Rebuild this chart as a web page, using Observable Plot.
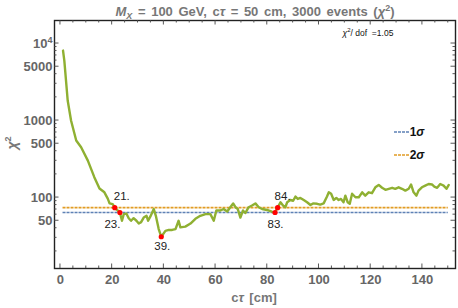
<!DOCTYPE html>
<html>
<head>
<meta charset="utf-8">
<script src="https://cdn.jsdelivr.net/npm/d3@7"></script>
<script src="https://cdn.jsdelivr.net/npm/@observablehq/plot@0.6"></script>
<style>
  html, body { margin: 0; padding: 0; background: #fff; }
</style>
</head>
<body>
<div id="chart"></div>
<script>
// ---- data ----
const ctValues = [1.0, 1.5, 2.8, 4.1, 6.1, 8.0, 10.6, 13.1, 15.1, 17.0, 18.3, 19.0, 20.2, 21, 23, 23.2, 23.8, 24.5, 25.5, 26.4,
  27.3, 28.3, 29.4, 30.3, 31.2, 32.2, 33.3, 33.9, 34.8, 36.1, 36.9, 38.0, 39, 40.6, 41.9, 43.2, 44.5, 45.7, 46.4, 48.3,
  50.3, 52.2, 54.1, 56.1, 58.0, 59.3, 60.3, 61.9, 63.1, 64.5, 65.7, 66.8, 67.7, 68.6, 69.6, 70.6, 71.5, 72.8, 74.1, 75.4,
  76.7, 78.0, 79.9, 81.5, 82.5, 83, 84, 85.1, 86.1, 87.0, 87.7, 88.9, 90.0, 90.9, 91.8, 92.8, 94.1, 95.4, 96.7, 97.7,
  99.3, 100.5, 101.8, 103.1, 103.8, 104.7, 105.7, 106.7, 107.6, 108.5, 109.5, 110.2, 111.1, 111.9, 112.8, 114.1, 115.4, 116.7, 117.9, 119.2,
  120.5, 121.8, 123.1, 124.4, 125.7, 127, 128.3, 129.5, 130.8, 132.1, 133.4, 134.7, 135.6, 136.6, 137.7, 138.5, 139.8, 141.1, 142.4, 143.7,
  144.6, 145.7, 146.9, 148.2, 149.3, 150.2];
const chi2Values = [8100, 6000, 1820, 1000, 550, 450, 302, 184, 131, 117, 97, 84, 82, 74, 64, 60, 50, 61, 62, 54,
  50, 54, 50, 46, 48, 55, 58, 50, 57, 71, 58, 39, 31, 37, 38, 38, 39, 50, 41, 42,
  46, 53, 58, 61, 61, 50, 68, 68, 71, 66, 75, 84, 75, 71, 55, 68, 63, 75, 79, 84,
  75, 71, 69, 66, 64, 64, 74, 87, 79, 75, 87, 93, 91, 103, 96, 99, 93, 87, 80, 84,
  83, 81, 84, 103, 117, 112, 93, 99, 93, 96, 87, 106, 87, 83, 112, 101, 101, 117, 106, 117,
  114, 136, 146, 134, 126, 130, 134, 130, 136, 130, 123, 130, 148, 117, 106, 123, 136, 143, 150, 148,
  139, 134, 150, 143, 130, 146];

const sigmaNames = ["1σ", "2σ"];
const sigmaLevels = [64, 74];
const sigmaRange = [1, 150];

const crossCt = [21, 23, 39, 83, 84];
const crossChi2 = [74, 64, 31, 64, 74];
const crossLabels = ["21.", "23.", "39.", "83.", "84."];

const xTicksMajor = [0, 20, 40, 60, 80, 100, 120, 140];
const xTicksMinor = [5, 10, 15, 25, 30, 35, 45, 50, 55, 65, 70, 75, 85, 90, 95, 105, 110, 115, 125, 130, 135, 145, 150];
const yTicksMajor = [50, 100, 500, 1000, 5000, 10000];
const yTickLabels = ["50", "100", "500", "1000", "5000", "TENFOUR"];
const yTicksMinor = [20, 30, 40, 60, 70, 80, 90, 200, 300, 400, 600, 700, 800, 900, 2000, 3000, 4000, 6000, 7000, 8000, 9000];

const chiDof = "1.05";

// ---- build ----
const curve = ctValues.map((c, i) => ({ct: c, chi2: chi2Values[i]}));
const crosses = crossCt.map((c, i) => ({ct: c, chi2: crossChi2[i], label: crossLabels[i]}));
const sigmas = sigmaLevels.map((v, i) => ({name: sigmaNames[i], level: v}));
const yLabelData = yTicksMajor.map((v, i) => ({v, label: yTickLabels[i]}));

const colBlue = "#5E81B5", colOrange = "#E19C24", colGreen = "#8FB032";
const labelOffsets = [[7, -11], [-7.5, 11.5], [1, 10], [0.5, 11.5], [5, -11.5]];
const font = "Liberation Sans, Arial, sans-serif";

const plot = Plot.plot({
  width: 458,
  height: 308,
  marginLeft: 54,
  marginRight: 3,
  marginTop: 20,
  marginBottom: 40,
  style: {fontFamily: font, fontSize: "13px", color: "#666", background: "#fff"},
  x: {domain: [-2.3, 152.8]},
  y: {type: "log", domain: [12, 19900]},
  marks: [
    Plot.axisX({ticks: xTicksMajor, tickSize: 0, tickPadding: 6, label: null, fontWeight: "bold"}),
    Plot.axisY({ticks: [], tickSize: 0, label: null}),
    Plot.text(yLabelData, {y: "v", text: "label", frameAnchor: "left", dx: -2, textAnchor: "end",
      fontWeight: "bold", fill: "#666", fontSize: 13}),
    Plot.ruleY(sigmas.slice(0, 1), {y: "level", x1: sigmaRange[0], x2: sigmaRange[1], stroke: colBlue, strokeWidth: 1.6, strokeDasharray: "3,1"}),
    Plot.ruleY(sigmas.slice(1, 2), {y: "level", x1: sigmaRange[0], x2: sigmaRange[1], stroke: colOrange, strokeWidth: 1.6, strokeDasharray: "3,1"}),
    Plot.line(curve, {x: "ct", y: "chi2", stroke: colGreen, strokeWidth: 2.4, strokeLinejoin: "round"}),
    Plot.dot(crosses, {x: "ct", y: "chi2", fill: "#ff0000", r: 2.6, stroke: "none"}),
    ...crosses.map((d, i) => Plot.text([d], {x: "ct", y: "chi2", text: "label", dx: labelOffsets[i][0], dy: labelOffsets[i][1],
      fill: "#222", fontSize: 11.5, lineAnchor: "middle", textAnchor: "middle"})),
    Plot.frame({stroke: "#222", strokeWidth: 1.4})
  ]
});

document.getElementById("chart").appendChild(plot);

const svg = d3.select(plot);
const xs = plot.scale("x"), ys = plot.scale("y");
const L = 54, R = 455, T = 20, B = 268;

// replace 10^4 label with superscript
svg.selectAll("text").filter(function() { return this.textContent === "TENFOUR"; }).each(function() {
  const t = d3.select(this);
  t.text("");
  t.append("tspan").text("10");
  t.append("tspan").attr("dy", -5).attr("font-size", 9).text("4");
});

// frame ticks (inward), all four sides
const tg = svg.append("g").attr("stroke", "#444").attr("stroke-width", 0.9);
function xt(v, len) {
  const px = xs.apply(v);
  tg.append("line").attr("x1", px).attr("x2", px).attr("y1", B).attr("y2", B - len);
  tg.append("line").attr("x1", px).attr("x2", px).attr("y1", T).attr("y2", T + len);
}
function yt(v, len) {
  const py = ys.apply(v);
  tg.append("line").attr("y1", py).attr("y2", py).attr("x1", L).attr("x2", L + len);
  tg.append("line").attr("y1", py).attr("y2", py).attr("x1", R).attr("x2", R - len);
}
xTicksMajor.forEach(v => xt(v, 4.5));
xTicksMinor.forEach(v => xt(v, 2.5));
yTicksMajor.forEach(v => yt(v, 4.5));
yTicksMinor.forEach(v => yt(v, 2.5));

// title
const title = svg.append("text").attr("x", 255).attr("y", 16).attr("text-anchor", "middle")
  .attr("font-size", 13).attr("font-weight", "bold").attr("fill", "#777").attr("word-spacing", 2).attr("font-family", font);
title.append("tspan").attr("font-style", "italic").text("M");
title.append("tspan").attr("font-style", "italic").attr("font-size", 9).attr("dy", 3).text("X");
title.append("tspan").attr("dy", -3).text(" = 100 GeV, c");
title.append("tspan").attr("font-style", "italic").text("τ");
title.append("tspan").text(" = 50 cm, 3000 events (");
title.append("tspan").attr("font-style", "italic").text("χ");
title.append("tspan").attr("font-size", 9).attr("dy", -5).text("2");
title.append("tspan").attr("dy", 5).text(")");

// axis labels
const xl = svg.append("text").attr("x", 254).attr("y", 302).attr("text-anchor", "middle")
  .attr("font-size", 13).attr("font-weight", "bold").attr("fill", "#777").attr("font-family", font).attr("word-spacing", 2);
xl.append("tspan").text("c");
xl.append("tspan").attr("font-style", "italic").text("τ");
xl.append("tspan").text(" [cm]");

const yl = svg.append("text").attr("transform", "translate(17,143) rotate(-90)").attr("text-anchor", "middle")
  .attr("font-size", 14).attr("font-weight", "bold").attr("fill", "#777").attr("font-family", font);
yl.append("tspan").attr("font-style", "italic").text("χ");
yl.append("tspan").attr("font-size", 9).attr("dy", -6).text("2");

// chi2/dof annotation
const an = svg.append("text").attr("x", 368).attr("y", 36).attr("font-size", 8.5).attr("font-weight", "normal")
  .attr("fill", "#111").attr("font-family", font);
an.append("tspan").attr("font-style", "italic").text("χ");
an.append("tspan").attr("font-size", 6).attr("dy", -4).text("2");
an.append("tspan").attr("dy", 4).text("/ dof  =" + chiDof);

// legend
const legY = [132, 155];
const legCols = [colBlue, colOrange];
sigmas.forEach((s, i) => {
  svg.append("line").attr("x1", 394).attr("x2", 410).attr("y1", legY[i]).attr("y2", legY[i])
    .attr("stroke", legCols[i]).attr("stroke-width", 1.4).attr("stroke-dasharray", "3,1");
  const t = svg.append("text").attr("x", 417).attr("y", legY[i] + 4).attr("font-size", 12).attr("font-weight", "bold")
    .attr("fill", "#111").attr("font-family", font);
  t.append("tspan").text(s.name.slice(0, 1));
  t.append("tspan").attr("font-style", "italic").text(s.name.slice(1));
});
</script>
</body>
</html>
